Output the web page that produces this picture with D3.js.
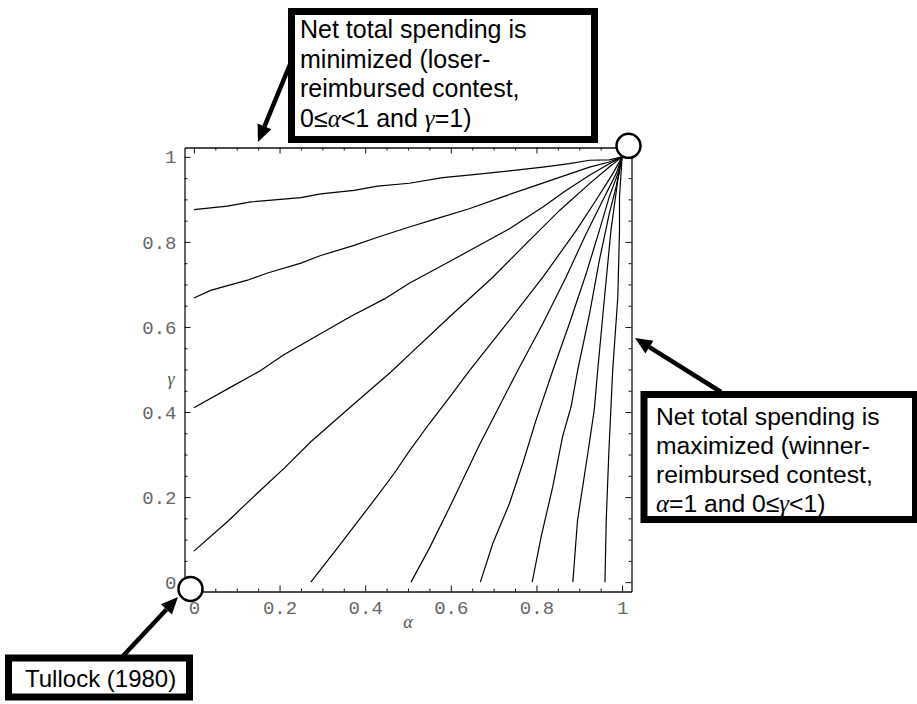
<!DOCTYPE html>
<html>
<head>
<meta charset="utf-8">
<script src="https://cdn.jsdelivr.net/npm/d3@7"></script>
<style>
  body { margin: 0; background: #fff; }
  svg { display: block; }
</style>
</head>
<body>
<svg width="917" height="704"></svg>
<script>
// tick values / labels
var majorTicks = [0, 0.2, 0.4, 0.6, 0.8, 1];
var tickLabels = ["0", "0.2", "0.4", "0.6", "0.8", "1"];
var minorTicks = [0.05, 0.1, 0.15, 0.25, 0.3, 0.35, 0.45, 0.5, 0.55, 0.65, 0.7, 0.75, 0.85, 0.9, 0.95];

// contour lines, [alpha, gamma]
var line1 = [[0,0.876],[0.078,0.884],[0.133,0.894],[0.25,0.904],[0.296,0.913],[0.374,0.921],[0.429,0.931],[0.503,0.938],[0.581,0.951],[0.659,0.959],[0.737,0.967],[0.815,0.976],[0.877,0.984],[0.924,0.992],[0.97,0.993],[1,1]];
var line2 = [[0,0.668],[0.039,0.686],[0.125,0.71],[0.172,0.727],[0.25,0.75],[0.296,0.768],[0.374,0.792],[0.429,0.811],[0.503,0.835],[0.565,0.854],[0.643,0.878],[0.721,0.906],[0.799,0.933],[0.869,0.957],[0.924,0.976],[0.97,0.988],[1,1]];
var line3 = [[0,0.41],[0.085,0.458],[0.155,0.497],[0.209,0.534],[0.318,0.597],[0.367,0.625],[0.445,0.666],[0.503,0.703],[0.581,0.745],[0.659,0.788],[0.737,0.831],[0.815,0.882],[0.869,0.921],[0.924,0.957],[0.97,0.984],[1,1]];
var line4 = [[0,0.073],[0.078,0.142],[0.148,0.209],[0.211,0.268],[0.273,0.33],[0.367,0.413],[0.46,0.494],[0.503,0.535],[0.596,0.623],[0.698,0.717],[0.776,0.796],[0.854,0.874],[0.924,0.937],[0.97,0.976],[1,1]];
var line5 = [[0.273,0],[0.335,0.08],[0.421,0.193],[0.468,0.256],[0.503,0.308],[0.55,0.373],[0.604,0.444],[0.643,0.497],[0.737,0.616],[0.815,0.717],[0.893,0.827],[0.939,0.898],[0.978,0.96],[1,1]];
var line6 = [[0.507,0],[0.55,0.08],[0.604,0.19],[0.667,0.323],[0.713,0.413],[0.756,0.497],[0.815,0.608],[0.869,0.717],[0.916,0.819],[0.955,0.898],[0.986,0.96],[1,1]];
var line7 = [[0.669,0],[0.698,0.091],[0.737,0.185],[0.768,0.279],[0.799,0.381],[0.838,0.497],[0.877,0.608],[0.916,0.725],[0.947,0.827],[0.97,0.906],[0.99,0.96],[1,1]];
var line8 = [[0.79,0],[0.811,0.107],[0.838,0.224],[0.861,0.342],[0.881,0.413],[0.896,0.497],[0.924,0.631],[0.947,0.757],[0.97,0.866],[0.986,0.929],[1,1]];
var line9 = [[0.885,0],[0.896,0.146],[0.92,0.303],[0.935,0.405],[0.943,0.497],[0.959,0.67],[0.974,0.827],[0.99,0.945],[1,1]];
var line10 = [[0.96,0],[0.963,0.146],[0.969,0.303],[0.978,0.497],[0.99,0.67],[0.994,0.827],[0.994,0.906],[1,1]];
var contours = [line1, line2, line3, line4, line5, line6, line7, line8, line9, line10];

// highlighted corners (alpha, gamma)
var corners = [[-0.008, -0.016], [1.015, 1.026]];

var svg = d3.select("svg");

var x = d3.scaleLinear().domain([-0.022, 1.022]).range([184.5, 631.5]),
    y = d3.scaleLinear().domain([-0.022, 1.022]).range([591.5, 147.5]);

var fmt = function(d){ return tickLabels[majorTicks.indexOf(d)]; };

function frameAxis(axis, tx, ty, labels, pad){
    var g = svg.append("g").attr("transform", "translate(" + tx + "," + ty + ")");
    g.call(axis().tickValues(majorTicks).tickSizeInner(-6).tickSizeOuter(0)
        .tickPadding(pad).tickFormat(labels ? fmt : ""));
    svg.append("g").attr("transform", "translate(" + tx + "," + ty + ")")
        .call(axis().tickValues(minorTicks).tickSizeInner(-3).tickSizeOuter(0).tickFormat(""))
        .select(".domain").remove();
    return g;
}

frameAxis(function(){ return d3.axisBottom(x); }, 0, 591.5, true, 9);
frameAxis(function(){ return d3.axisTop(x); }, 0, 147.5, false, 0);
frameAxis(function(){ return d3.axisLeft(y); }, 184.5, 0, true, 8);
frameAxis(function(){ return d3.axisRight(y); }, 631.5, 0, false, 0);

svg.selectAll(".tick line").attr("stroke", "#111").attr("stroke-width", 1);
svg.selectAll(".domain").attr("stroke", "#111").attr("stroke-width", 1.3);
svg.selectAll(".tick text")
    .attr("font-family", "'Liberation Mono', 'Courier New', monospace")
    .attr("font-size", "19px")
    .attr("fill", "#666");

// axis titles
svg.append("text").attr("x", 408).attr("y", 628).attr("text-anchor", "middle")
    .attr("font-family", "'Liberation Serif', serif").attr("font-style", "italic")
    .attr("font-size", "18px").attr("fill", "#555").text("\u03b1");
svg.append("text").attr("x", 171).attr("y", 385).attr("text-anchor", "middle")
    .attr("font-family", "'Liberation Serif', serif").attr("font-style", "italic")
    .attr("font-size", "18px").attr("fill", "#555").text("\u03b3");

// contour lines
var line = d3.line()
    .x(function(d){ return x(d[0]); })
    .y(function(d){ return y(d[1]); });

svg.append("g").selectAll("path")
    .data(contours)
    .enter()
    .append("path")
    .attr("d", line)
    .attr("fill", "none")
    .attr("stroke", "#000")
    .attr("stroke-width", 1.2);

// corner circles
svg.append("g").selectAll("circle")
    .data(corners)
    .enter()
    .append("circle")
    .attr("cx", function(d){ return x(d[0]); })
    .attr("cy", function(d){ return y(d[1]); })
    .attr("r", 12)
    .attr("fill", "#fff")
    .attr("stroke", "#000")
    .attr("stroke-width", 2.5);

// callouts
function arrow(x1, y1, x2, y2){
    var a = Math.atan2(y2 - y1, x2 - x1), L = 17, W = 7.5;
    var bx = x2 - L * Math.cos(a), by = y2 - L * Math.sin(a);
    svg.append("line").attr("x1", x1).attr("y1", y1).attr("x2", bx).attr("y2", by)
        .attr("stroke", "#000").attr("stroke-width", 4.5);
    svg.append("polygon")
        .attr("points", [[x2, y2], [bx + W * Math.sin(a), by - W * Math.cos(a)], [bx - W * Math.sin(a), by + W * Math.cos(a)]].join(" "))
        .attr("fill", "#000");
}

function box(x0, y0, w, h, lines, tx, ty, lh, size){
    svg.append("rect").attr("x", x0).attr("y", y0).attr("width", w).attr("height", h)
        .attr("fill", "#fff").attr("stroke", "#000").attr("stroke-width", 7);
    var t = svg.append("text")
        .attr("font-family", "'Liberation Sans', Arial, sans-serif")
        .attr("font-size", size + "px").attr("fill", "#000");
    lines.forEach(function(parts, i){
        var row = t.append("tspan").attr("x", tx).attr("y", ty + i * lh);
        parts.forEach(function(p){
            var s = row.append("tspan").text(p.t || p);
            if (p.g) s.attr("font-family", "'Liberation Serif', serif").attr("font-style", "italic");
        });
    });
}

arrow(291, 62, 258, 142);
arrow(721, 392, 635, 338);
arrow(123, 656, 178, 597);

box(291.5, 11.5, 303, 128, [
    ["Net total spending is"],
    ["minimized (loser-"],
    ["reimbursed contest,"],
    ["0\u2264", {t: "\u03b1", g: true}, "<1 and ", {t: "\u03b3", g: true}, "=1)"]
], 300, 38, 29.5, 25);

box(644, 394.5, 271.5, 125, [
    ["Net total spending is"],
    ["maximized (winner-"],
    ["reimbursed contest,"],
    [{t: "\u03b1", g: true}, "=1 and 0\u2264", {t: "\u03b3", g: true}, "<1)"]
], 656, 425, 29, 24.7);

box(8.5, 658, 181, 39, [["Tullock (1980)"]], 25, 687, 0, 24);
</script>
</body>
</html>
